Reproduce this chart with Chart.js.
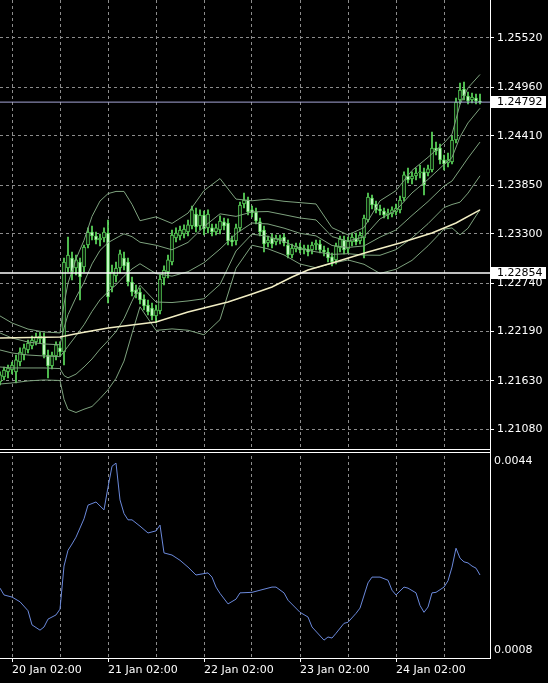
<!DOCTYPE html>
<html>
<head>
<meta charset="utf-8">
<script src="https://cdn.jsdelivr.net/npm/chart.js@4.4.1/dist/chart.umd.min.js"></script>
<style>
  html, body { margin: 0; padding: 0; background: #000; }
  canvas { display: block; }
</style>
</head>
<body>
<canvas id="myChart" width="548" height="683"></canvas>
<script>
// hourly bars, bar 0 = 20 Jan 02:00, first visible bar is 3 hours earlier
const firstBar = -3

const openPrices = [
  1.21618, 1.21675, 1.21732, 1.21754, 1.21732, 1.21845, 1.21924, 1.21981, 1.22026, 1.22072,
  1.22106, 1.22128, 1.21924, 1.21800, 1.21913, 1.22004, 1.21958, 1.22911, 1.23024, 1.22911,
  1.22979, 1.22922, 1.23172, 1.23319, 1.23274, 1.23228, 1.23251, 1.23308, 1.22695, 1.22820,
  1.22911, 1.23024, 1.22979, 1.22752, 1.22661, 1.22639, 1.22559, 1.22491, 1.22457, 1.22367,
  1.22423, 1.22798, 1.22866, 1.22979, 1.23251, 1.23274, 1.23296, 1.23319, 1.23387, 1.23523,
  1.23387, 1.23512, 1.23365, 1.23365, 1.23319, 1.23342, 1.23433, 1.23421, 1.23228, 1.23217,
  1.23365, 1.23637, 1.23682, 1.23569, 1.23546, 1.23433, 1.23342, 1.23194, 1.23251, 1.23206,
  1.23228, 1.23262, 1.23172, 1.23058, 1.23126, 1.23149, 1.23115, 1.23126, 1.23115, 1.23172,
  1.23183, 1.23115, 1.23092, 1.23036, 1.23002, 1.23138, 1.23228, 1.23126, 1.23206, 1.23251,
  1.23217, 1.23251, 1.23455, 1.23705, 1.23637, 1.23580, 1.23557, 1.23512, 1.23523, 1.23546,
  1.23569, 1.23705, 1.23954, 1.23920, 1.23954, 1.23988, 1.24000, 1.23988, 1.24022, 1.24272,
  1.24272, 1.24136, 1.24102, 1.24113, 1.24362, 1.24816, 1.24941, 1.24861, 1.24816, 1.24839,
  1.24805
]
const highPrices = [
  1.21732, 1.21788, 1.21811, 1.21845, 1.21924, 1.22004, 1.22049, 1.22094, 1.22140, 1.22174,
  1.22185, 1.22174, 1.21981, 1.21958, 1.22072, 1.22072, 1.23024, 1.23262, 1.23092, 1.23058,
  1.23024, 1.23172, 1.23365, 1.23387, 1.23319, 1.23296, 1.23365, 1.23455, 1.22945, 1.22979,
  1.23115, 1.23092, 1.23024, 1.22809, 1.22718, 1.22684, 1.22605, 1.22548, 1.22514, 1.22491,
  1.22832, 1.22934, 1.23058, 1.23342, 1.23365, 1.23387, 1.23399, 1.23455, 1.23614, 1.23591,
  1.23569, 1.23557, 1.23569, 1.23410, 1.23410, 1.23501, 1.23478, 1.23467, 1.23274, 1.23410,
  1.23659, 1.23761, 1.23716, 1.23614, 1.23591, 1.23478, 1.23387, 1.23274, 1.23296, 1.23285,
  1.23285, 1.23296, 1.23228, 1.23183, 1.23194, 1.23194, 1.23172, 1.23172, 1.23206, 1.23228,
  1.23228, 1.23160, 1.23138, 1.23081, 1.23194, 1.23274, 1.23274, 1.23262, 1.23308, 1.23308,
  1.23319, 1.23512, 1.23761, 1.23739, 1.23671, 1.23625, 1.23591, 1.23580, 1.23603, 1.23637,
  1.23727, 1.24000, 1.24045, 1.24000, 1.24045, 1.24079, 1.24045, 1.24079, 1.24453, 1.24340,
  1.24317, 1.24192, 1.24215, 1.24408, 1.24839, 1.25009, 1.25020, 1.24907, 1.24895, 1.24884,
  1.24884
]
const lowPrices = [
  1.21584, 1.21641, 1.21664, 1.21709, 1.21607, 1.21800, 1.21868, 1.21947, 1.21992, 1.22038,
  1.22060, 1.21890, 1.21664, 1.21766, 1.21868, 1.21913, 1.21811, 1.22866, 1.22775, 1.22832,
  1.22548, 1.22866, 1.23138, 1.23228, 1.23183, 1.23160, 1.23206, 1.22514, 1.22639, 1.22752,
  1.22854, 1.22888, 1.22707, 1.22593, 1.22571, 1.22503, 1.22435, 1.22378, 1.22321, 1.22287,
  1.22389, 1.22718, 1.22798, 1.22945, 1.23206, 1.23228, 1.23251, 1.23274, 1.23353, 1.23319,
  1.23342, 1.23285, 1.23308, 1.23274, 1.23285, 1.23296, 1.23342, 1.23172, 1.23160, 1.23172,
  1.23331, 1.23591, 1.23512, 1.23489, 1.23410, 1.23274, 1.23092, 1.23149, 1.23138, 1.23172,
  1.23183, 1.23160, 1.23024, 1.23024, 1.23092, 1.23081, 1.23070, 1.23047, 1.23070, 1.23115,
  1.23081, 1.23047, 1.22979, 1.22934, 1.22956, 1.23092, 1.23070, 1.23081, 1.23160, 1.23172,
  1.23183, 1.23024, 1.23433, 1.23580, 1.23535, 1.23512, 1.23478, 1.23467, 1.23489, 1.23512,
  1.23535, 1.23671, 1.23875, 1.23863, 1.23909, 1.23932, 1.23739, 1.23954, 1.24000, 1.24192,
  1.24090, 1.24022, 1.24056, 1.24090, 1.24328, 1.24771, 1.24816, 1.24771, 1.24782, 1.24771,
  1.24771
]
const closePrices = [
  1.21698, 1.21754, 1.21777, 1.21811, 1.21868, 1.21958, 1.22004, 1.22060, 1.22094, 1.22128,
  1.22140, 1.21924, 1.21800, 1.21924, 1.22038, 1.21958, 1.22979, 1.23058, 1.22866, 1.23002,
  1.22809, 1.23149, 1.23319, 1.23274, 1.23228, 1.23251, 1.23319, 1.22582, 1.22866, 1.22911,
  1.23070, 1.22934, 1.22752, 1.22639, 1.22616, 1.22548, 1.22480, 1.22412, 1.22367, 1.22435,
  1.22786, 1.22888, 1.23002, 1.23285, 1.23308, 1.23342, 1.23353, 1.23399, 1.23569, 1.23376,
  1.23512, 1.23353, 1.23523, 1.23319, 1.23365, 1.23444, 1.23387, 1.23217, 1.23206, 1.23365,
  1.23625, 1.23682, 1.23546, 1.23535, 1.23444, 1.23319, 1.23183, 1.23228, 1.23183, 1.23251,
  1.23251, 1.23194, 1.23058, 1.23138, 1.23160, 1.23115, 1.23138, 1.23092, 1.23172, 1.23194,
  1.23115, 1.23092, 1.23024, 1.22979, 1.23160, 1.23240, 1.23115, 1.23217, 1.23262, 1.23206,
  1.23285, 1.23478, 1.23716, 1.23625, 1.23569, 1.23557, 1.23512, 1.23535, 1.23569, 1.23591,
  1.23682, 1.23966, 1.23909, 1.23954, 1.23988, 1.24000, 1.23852, 1.24034, 1.24272, 1.24238,
  1.24136, 1.24090, 1.24136, 1.24362, 1.24793, 1.24929, 1.24861, 1.24805, 1.24850, 1.24805,
  1.24792
]

// bollinger lines (20) at these bars
const bandBars = [-3, 0, 4, 8, 12, 13, 14, 16, 18, 20, 22, 24, 26, 28, 30, 32, 36, 40, 44, 48,
  52, 56, 60, 64, 68, 72, 76, 80, 84, 88, 92, 96, 100, 104, 108, 110, 112, 114, 117]
const bandUpper2 = [1.22367, 1.22287, 1.22218, 1.22185, 1.22175, 1.22501, 1.22739, 1.23012, 1.23225, 1.23496,
  1.23670, 1.23754, 1.23779, 1.23779, 1.23632, 1.23447, 1.23491, 1.23416, 1.23533, 1.23789,
  1.23925, 1.23692, 1.23673, 1.23692, 1.23667, 1.23652, 1.23637, 1.23368, 1.23286, 1.23369,
  1.23673, 1.23788, 1.24017, 1.24166, 1.24328, 1.24429, 1.24767, 1.24954, 1.25105]
const bandUpper1 = [1.22174, 1.22117, 1.22071, 1.22049, 1.22040, 1.22231, 1.22381, 1.22577, 1.22746, 1.22957,
  1.23110, 1.23198, 1.23249, 1.23298, 1.23266, 1.23203, 1.23169, 1.23117, 1.23201, 1.23380,
  1.23525, 1.23496, 1.23547, 1.23551, 1.23515, 1.23478, 1.23456, 1.23267, 1.23215, 1.23265,
  1.23467, 1.23565, 1.23762, 1.23915, 1.24084, 1.24163, 1.24397, 1.24556, 1.24722]
const bandMiddle = [1.21981, 1.21947, 1.21924, 1.21913, 1.21905, 1.21961, 1.22023, 1.22142, 1.22267, 1.22418,
  1.22550, 1.22642, 1.22719, 1.22817, 1.22900, 1.22959, 1.22847, 1.22818, 1.22869, 1.22971,
  1.23125, 1.23300, 1.23421, 1.23410, 1.23363, 1.23304, 1.23275, 1.23166, 1.23144, 1.23161,
  1.23261, 1.23342, 1.23507, 1.23664, 1.23840, 1.23897, 1.24027, 1.24158, 1.24339]
const bandLower1 = [1.21788, 1.21777, 1.21777, 1.21777, 1.21770, 1.21691, 1.21665, 1.21707, 1.21788, 1.21879,
  1.21990, 1.22086, 1.22189, 1.22336, 1.22534, 1.22715, 1.22525, 1.22519, 1.22537, 1.22562,
  1.22725, 1.23104, 1.23295, 1.23269, 1.23211, 1.23130, 1.23094, 1.23065, 1.23073, 1.23057,
  1.23055, 1.23119, 1.23252, 1.23413, 1.23596, 1.23631, 1.23657, 1.23760, 1.23956]
const bandLower2 = [1.21595, 1.21607, 1.21630, 1.21641, 1.21635, 1.21421, 1.21307, 1.21272, 1.21309, 1.21340,
  1.21430, 1.21530, 1.21659, 1.21855, 1.22168, 1.22471, 1.22203, 1.22220, 1.22205, 1.22153,
  1.22325, 1.22908, 1.23169, 1.23128, 1.23059, 1.22956, 1.22913, 1.22964, 1.23002, 1.22953,
  1.22849, 1.22896, 1.22997, 1.23162, 1.23352, 1.23365, 1.23287, 1.23362, 1.23573]

// slow moving average (cream line)
const maBars = [-3, 12, 17, 24, 36, 44, 49, 54, 60, 65, 70, 74, 80, 89, 97, 105, 111, 117]
const maValues = [1.22117, 1.22128, 1.22174, 1.22230, 1.22299, 1.22412, 1.22469, 1.22525, 1.22616, 1.22695,
  1.22809, 1.22888, 1.22968, 1.23092, 1.23194, 1.23308, 1.23421, 1.23569]

// lower window indicator
const oscBars = [-3, -2, 0, 2, 4, 5, 7, 8, 9, 11, 12, 13, 14, 15, 16, 18, 19, 21, 23, 24,
  25, 26, 27, 28, 29, 30, 32, 34, 36, 37, 38, 40, 42, 44, 46, 49, 50, 51, 52, 54,
  56, 57, 60, 63, 65, 66, 68, 69, 72, 74, 75, 78, 79, 80, 81, 83, 84, 86, 87, 89,
  90, 92, 94, 95, 96, 98, 99, 101, 102, 103, 104, 105, 106, 108, 109, 110, 111, 112, 113, 114,
  115, 116, 117]
const oscValues = [0.00198, 0.00185, 0.00181, 0.00172, 0.00155, 0.00128, 0.00118, 0.00124, 0.00139, 0.00147,
  0.00158, 0.00240, 0.00270, 0.00282, 0.00295, 0.00330, 0.00356, 0.00362, 0.00347, 0.00390,
  0.00430, 0.00436, 0.00366, 0.00340, 0.00328, 0.00328, 0.00316, 0.00303, 0.00307, 0.00318,
  0.00265, 0.00261, 0.00251, 0.00238, 0.00223, 0.00227, 0.00219, 0.00200, 0.00188, 0.00168,
  0.00177, 0.00189, 0.00190, 0.00196, 0.00200, 0.00200, 0.00189, 0.00175, 0.00152, 0.00143,
  0.00124, 0.00099, 0.00105, 0.00103, 0.00112, 0.00131, 0.00133, 0.00150, 0.00160, 0.00208,
  0.00219, 0.00219, 0.00213, 0.00194, 0.00185, 0.00200, 0.00198, 0.00189, 0.00165, 0.00152,
  0.00162, 0.00189, 0.00190, 0.00200, 0.00212, 0.00238, 0.00274, 0.00255, 0.00248, 0.00246,
  0.00240, 0.00236, 0.00223]

const xLabelBars = [0, 24, 48, 72, 96]
const xTickLabels = ['20 Jan 02:00', '21 Jan 02:00', '22 Jan 02:00', '23 Jan 02:00', '24 Jan 02:00']
const gridBars = [0, 12, 24, 36, 48, 60, 72, 84, 96, 108]
const priceTicks = [1.2552, 1.2496, 1.2441, 1.2385, 1.2330, 1.2274, 1.2219, 1.2163, 1.2108]
const oscTicks = [0.0044, 0.0008]
const bidPrice = 1.24792
const levelPrice = 1.22854

Chart.defaults.font.family = '"DejaVu Sans", sans-serif'
Chart.defaults.font.size = 11
Chart.defaults.color = '#ffffff'

const green = '#5ee05e'
const bandColor = '#7ea27e'
const gridColor = '#8c8c8c'
const xMin = -3, xMax = 119.5

function pts(bars, vals) {
  return bars.map((b, k) => ({x: b, y: vals[k]}))
}
function line(data, color, width, axis) {
  return {type: 'line', data: data, borderColor: color, borderWidth: width, pointRadius: 0,
    tension: 0, fill: false, yAxisID: axis || 'y'}
}

var bodies = []
var wicks = []
for (var k = 0; k < openPrices.length; k++) {
  bodies.push({x: firstBar + k, y: [openPrices[k], closePrices[k]]})
  wicks.push({x: firstBar + k, y: [lowPrices[k], highPrices[k]]})
}

const panelFrame = {
  id: 'panelFrame',
  beforeDraw(chart) {
    const ctx = chart.ctx
    ctx.save()
    ctx.fillStyle = '#000'
    ctx.fillRect(0, 0, chart.width, chart.height)
    ctx.restore()
  },
  afterDraw(chart) {
    const ctx = chart.ctx
    const area = chart.chartArea
    const y = chart.scales.y
    const yb = Math.round(y.bottom)
    ctx.save()
    // gap between the price window and the indicator window
    ctx.fillStyle = '#000'
    ctx.fillRect(area.left, yb - 2, area.right - area.left, 4)
    ctx.strokeStyle = '#fff'
    ctx.lineWidth = 1
    ctx.beginPath()
    ctx.moveTo(area.left, yb - 1.5); ctx.lineTo(area.right, yb - 1.5)
    ctx.moveTo(area.left, yb + 1.5); ctx.lineTo(area.right, yb + 1.5)
    ctx.stroke()
    // price tags on the axis
    ctx.font = '11px "DejaVu Sans"'
    ctx.textBaseline = 'middle'
    ctx.textAlign = 'left'
    ;[bidPrice, levelPrice].forEach(function (p) {
      const py = Math.round(y.getPixelForValue(p))
      ctx.fillStyle = '#fff'
      ctx.fillRect(area.right + 1, py - 6, 55, 12)
      ctx.fillStyle = '#000'
      ctx.fillText(p.toFixed(5), area.right + 7, py + 0.5)
    })
    ctx.restore()
  }
}

const ctx = document.getElementById('myChart')

new Chart(ctx, {
  type: 'line',
  data: {
    datasets: [
      line([{x: xMin, y: bidPrice}, {x: xMax, y: bidPrice}], '#a6a6d6', 1),
      line([{x: xMin, y: levelPrice}, {x: xMax, y: levelPrice}], '#ffffff', 1.5),
      line(pts(maBars, maValues), '#f2eec4', 1.5),
      line(pts(bandBars, bandUpper2), bandColor, 1),
      line(pts(bandBars, bandUpper1), bandColor, 1),
      line(pts(bandBars, bandMiddle), bandColor, 1),
      line(pts(bandBars, bandLower1), bandColor, 1),
      line(pts(bandBars, bandLower2), bandColor, 1),
      {
        type: 'bar', data: bodies, yAxisID: 'y', grouped: false,
        barThickness: 3, borderWidth: 1, borderSkipped: false, borderColor: green,
        backgroundColor: function (c) {
          const r = c.raw
          return r && r.y[1] >= r.y[0] ? '#000000' : '#d6ffd6'
        }
      },
      {
        type: 'bar', data: wicks, yAxisID: 'y', grouped: false,
        barThickness: 1, borderWidth: 0, backgroundColor: green
      },
      line(pts(oscBars, oscValues), '#6b89db', 1, 'y2')
    ]
  },
  options: {
    responsive: false,
    animation: false,
    devicePixelRatio: 1,
    layout: {padding: 0},
    plugins: {legend: {display: false}, tooltip: {enabled: false}},
    scales: {
      x: {
        type: 'linear', position: 'bottom', min: xMin, max: xMax, offset: false,
        afterBuildTicks: function (s) { s.ticks = gridBars.map(function (b) { return {value: b} }) },
        afterFit: function (s) { s.height = 25; s.paddingLeft = 0; s.paddingRight = 0 },
        ticks: {
          autoSkip: false, maxRotation: 0, align: 'start', padding: 2, color: '#fff',
          callback: function (v) {
            const n = xLabelBars.indexOf(v)
            return n >= 0 ? xTickLabels[n] : ''
          }
        },
        grid: {
          color: gridColor, offset: false, tickLength: 4,
          tickColor: function (c) { return c.tick && xLabelBars.indexOf(c.tick.value) >= 0 ? '#fff' : 'rgba(0,0,0,0)' }
        },
        border: {display: true, color: '#fff', dash: [3, 3]}
      },
      y: {
        type: 'linear', position: 'right', stack: 'panels', stackWeight: 450.5,
        min: 1.20841, max: 1.2595,
        afterBuildTicks: function (s) { s.ticks = priceTicks.map(function (v) { return {value: v} }) },
        afterFit: function (s) { s.width = 58; s.paddingTop = 0; s.paddingBottom = 0 },
        ticks: { padding: 3, color: '#fff', callback: function (v) { return v.toFixed(5) } },
        grid: {color: gridColor, tickColor: '#fff', tickLength: 4},
        border: {display: true, color: '#fff', dash: [3, 3]}
      },
      y2: {
        type: 'linear', position: 'right', stack: 'panels', stackWeight: 207.5,
        min: 0.00065, max: 0.0046,
        afterBuildTicks: function (s) { s.ticks = oscTicks.map(function (v) { return {value: v} }) },
        afterFit: function (s) { s.width = 58; s.paddingTop = 0; s.paddingBottom = 0 },
        ticks: { padding: 0, color: '#fff', callback: function (v) { return v.toFixed(4) } },
        grid: {drawOnChartArea: false, tickColor: 'rgba(0,0,0,0)', tickLength: 4},
        border: {display: true, color: '#fff'}
      }
    }
  },
  plugins: [panelFrame]
})
</script>
</body>
</html>
